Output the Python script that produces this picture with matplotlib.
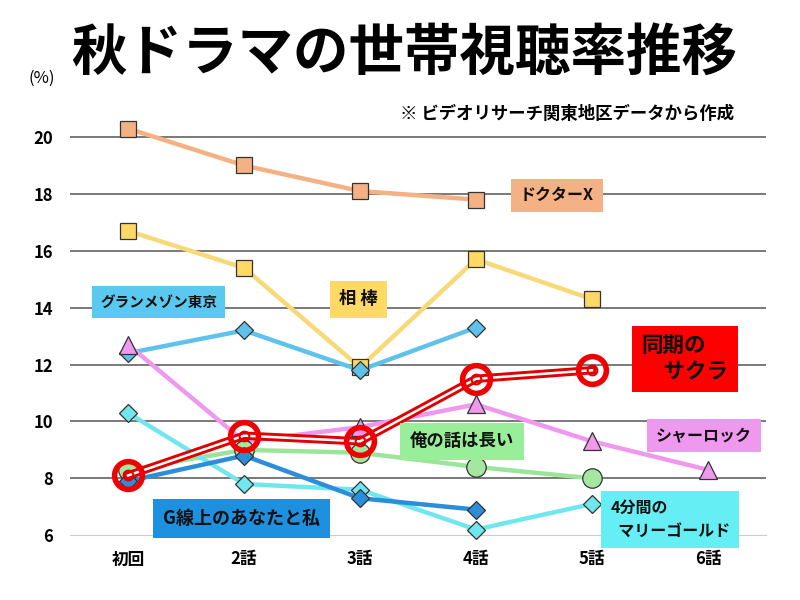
import matplotlib
matplotlib.use("Agg")
import matplotlib.pyplot as plt

plt.rcParams['font.family'] = ['Noto Sans CJK JP', 'DejaVu Sans']

episodes = ['初回', '2話', '3話', '4話', '5話', '6話']

doctor_x = [20.3, 19.0, 18.1, 17.8]
aibou = [16.7, 15.4, 11.9, 15.7, 14.3]
grand_maison = [12.4, 13.2, 11.8, 13.3]
sherlock = [12.7, 9.3, 9.8, 10.6, 9.3, 8.3]
ore_no_hanashi = [8.3, 9.0, 8.9, 8.4, 8.0]
marigold = [10.3, 7.8, 7.6, 6.2, 7.1]
g_sen = [7.9, 8.8, 7.3, 6.9]
douki = [8.1, 9.5, 9.3, 11.5, 11.8]

fig = plt.figure(figsize=(8, 6), dpi=100)
ax = fig.add_axes([0.0875, 0.108, 0.87, 0.711])

def xs(vals):
    return list(range(len(vals)))

# 通常の系列
series = [
    (doctor_x, '#F4B183', '#F4B183', 's', 11),
    (aibou, '#F8D978', '#FFD966', 's', 11),
    (grand_maison, '#5FC2EA', '#5FC2EA', 'D', 9),
    (sherlock, '#EE99EE', '#EE99EE', '^', 13),
    (ore_no_hanashi, '#9BE59B', '#A5E6A0', 'o', 14),
    (marigold, '#70E6EE', '#70E6EE', 'D', 9),
    (g_sen, '#2C8ED8', '#2C8ED8', 'D', 9),
]
for vals, lc, mc, mk, ms in series:
    ax.plot(xs(vals), vals, color=lc, lw=3.2, zorder=3)
    ax.plot(xs(vals), vals, ls='none', marker=mk, ms=ms, mfc=mc,
            mec='#333333', mew=0.9, zorder=4, clip_on=False)

# 同期のサクラ（二重線）
ax.plot(xs(douki), douki, color='#E00000', lw=6, zorder=5)
ax.plot(xs(douki), douki, color='white', lw=1.8, zorder=6)
ax.plot(xs(douki), douki, ls='none', marker='o', ms=20, mfc='none',
        mec='#F00000', mew=4, zorder=7)
ax.plot(xs(douki), douki, ls='none', marker='o', ms=7, mfc='none',
        mec='#E00000', mew=1.5, zorder=7)

ax.set_xlim(-0.5, 5.5)
ax.set_ylim(6, 21)
ax.set_yticks([6, 8, 10, 12, 14, 16, 18, 20])
ax.set_xticks(range(len(episodes)))
ax.set_xticklabels(episodes)
for lab in ax.get_xticklabels() + ax.get_yticklabels():
    lab.set_fontweight('bold')
    lab.set_fontsize(12)
ax.tick_params(length=0)
ax.tick_params(axis='y', pad=12)
ax.tick_params(axis='x', pad=11)
for y in [8, 10, 12, 14, 16, 18, 20]:
    ax.axhline(y, color='#555555', lw=1.1, zorder=1)
for s in ['top', 'left', 'right']:
    ax.spines[s].set_visible(False)
ax.spines['bottom'].set_color('#cccccc')

# ラベル
def label(x, y, text, fc, size=11, ha='left'):
    ax.text(x, y, text, fontsize=size, fontweight='bold', color='#111111',
            ha=ha, va='center', zorder=8, linespacing=1.3,
            bbox=dict(boxstyle='square,pad=0.55', fc=fc, ec='none'))

label(3.38, 17.95, 'ドクターX', '#F4B183', size=11.5)
label(1.82, 14.3, '相 棒', '#FFD966', size=12.5)
label(-0.24, 14.2, 'グランメゾン東京', '#5BC8F0', size=10.5)
label(2.43, 9.3, '俺の話は長い', '#99EE99', size=12.5)
label(4.55, 9.5, 'シャーロック', '#EE99EE', size=11.5)
label(0.3, 6.6, 'G線上のあなたと私', '#1E90E0', size=13)
ax.text(4.43, 12.2, '同期の\n　サクラ', fontsize=15.5, fontweight='bold',
        color='#111111', ha='left', va='center', zorder=8, linespacing=1.3,
        bbox=dict(boxstyle='square,pad=0.45', fc='#FF0000', ec='none'))
ax.text(4.16, 6.55, '4分間の\n  マリーゴールド', fontsize=11.5,
        fontweight='bold', color='#111111', ha='left', va='center',
        zorder=8, linespacing=1.5,
        bbox=dict(boxstyle='square,pad=0.6', fc='#66EEF5', ec='none'))

fig.text(0.505, 0.91, '秋ドラマの世帯視聴率推移', fontsize=40,
         fontweight='bold', ha='center', va='center')
fig.text(0.035, 0.87, '(%)', fontsize=12, ha='left', va='center')
fig.text(0.5, 0.81, '※ ビデオリサーチ関東地区データから作成', fontsize=12.5,
         fontweight='bold', ha='left', va='center')

fig.savefig('out.png', dpi=100)
